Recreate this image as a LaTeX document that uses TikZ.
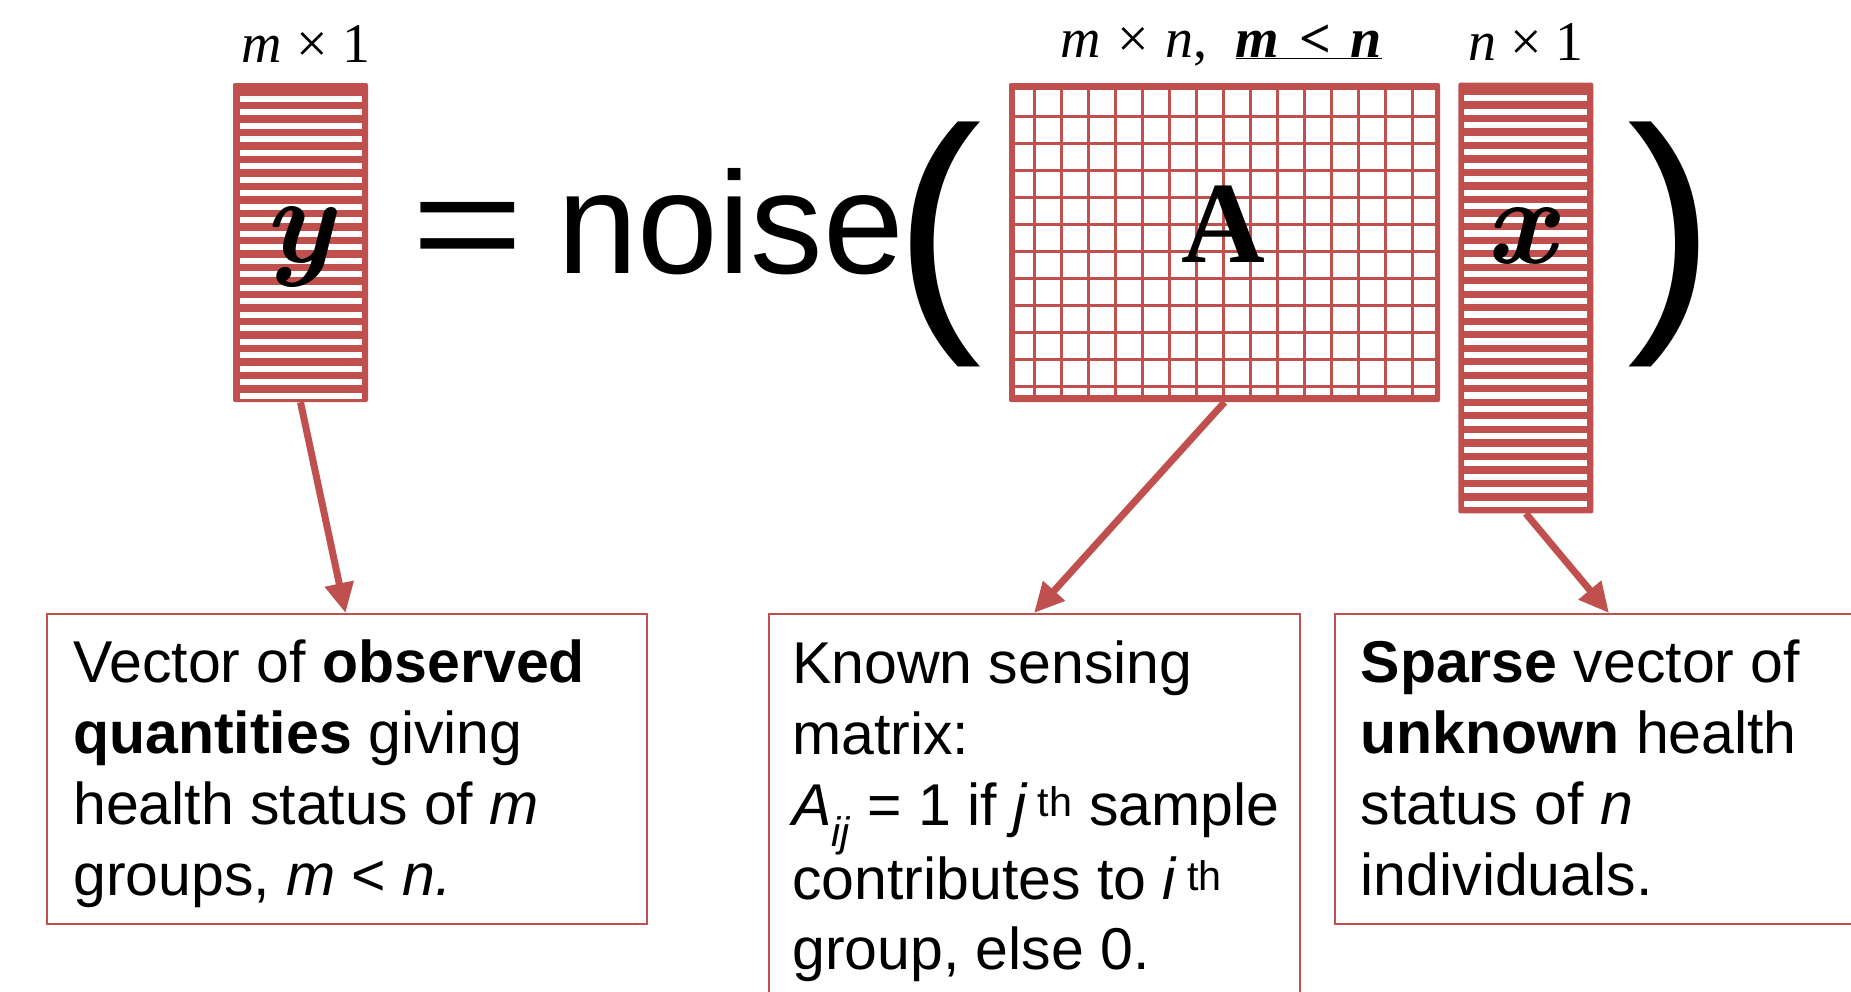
\documentclass[tikz,border=0pt]{standalone}
\usepackage{graphicx}
\usepackage{fontspec}
\setmainfont{Liberation Sans}
\newfontfamily\serifL{Liberation Serif}
\newfontfamily\lmr{Latin Modern Roman}
\usetikzlibrary{arrows.meta,calc}
\definecolor{accred}{HTML}{C0504D}
\tikzset{
  vecbox/.style={fill=accred, draw=none, rounded corners=2pt, inner sep=0pt},
  dimlbl/.style={font=\serifL\fontsize{56}{60}\selectfont, inner sep=0pt, anchor=base},
  bigsym/.style={inner sep=0pt, font=\fontsize{145}{145}\selectfont},
  conn/.style={draw=accred, line width=7pt, -{Triangle[length=30pt,width=28pt]}},
  tbox/.style={draw=accred, line width=2pt, inner sep=0pt, anchor=north west},
  txt/.style={font=\fontsize{59}{70.7}\selectfont, align=left, inner sep=0pt, anchor=north west},
}
\begin{document}
\begin{tikzpicture}[x=1pt,y=-1pt]
\useasboundingbox (0,0) rectangle (1851,991);
\clip (0,0) rectangle (1851,991);

% y vector
\node[vecbox, minimum width=135pt, minimum height=319pt] (ybox) at (300.5,242.5) {};
\foreach \k in {0,...,22}
  \fill[white] (239.5,{95.7+13.5*\k}) rectangle (361.7,{101.9+13.5*\k});

% A matrix
\node[vecbox, minimum width=431pt, minimum height=319pt] (Abox) at (1224.5,242.5) {};
\fill[white] (1015,90) rectangle (1434.5,395.3);
\foreach \xx in {1034,1061,1088,1115,1142,1169,1196,1223,1250.3,1277.3,1304.3,1331.3,1358.3,1385.3,1412.3}
  \draw[accred, line width=3pt] (\xx,90) -- (\xx,395.3);
\foreach \yy in {116,143,170,197,224,251.2,278.2,305.2,332.4,359.3,386.3}
  \draw[accred, line width=3pt] (1015,\yy) -- (1434.5,\yy);

% x vector
\node[vecbox, minimum width=135pt, minimum height=430.6pt] (xbox) at (1525.8,298) {};
\foreach \k in {0,...,30}
  \fill[white] (1464.3,{95+13.52*\k}) rectangle (1587.3,{101.3+13.52*\k});

% letters in boxes
\node[inner sep=0pt, font=\lmr\bfseries\itshape\fontsize{124}{124}\selectfont, anchor=base] (ylet) at (298,262) {y};
\node[inner sep=0pt, font=\serifL\bfseries\fontsize{116}{116}\selectfont, anchor=base] (Alet) at (1223,262) {A};
\node[inner sep=0pt, font=\lmr\bfseries\itshape\fontsize{124}{124}\selectfont, anchor=base] (xlet) at (1520,263) {x};

% dimension labels
\node[dimlbl] (dimy) at (306,62) {\textit{m} × 1};
\node[dimlbl] (dimA) at (1221,57) {\textit{m}\hspace{0.3em}×\hspace{0.3em}\textit{n},\hspace{28pt}\underline{\bfseries\itshape m\hspace{0.35em}<\hspace{0.35em}n}};
\node[dimlbl] (dimx) at (1526,60) {\textit{n} × 1};

% equation
\node[bigsym, anchor=base west] (eq) at (411.7,273) {\scalebox{1.33}[1]{=}};
\node[bigsym, anchor=base west] (noise) at (557,273) {noise};
\node[inner sep=0pt, font=\fontsize{263}{263}\selectfont, anchor=south] (lpar) at (938,367) {(};
\node[inner sep=0pt, font=\fontsize{263}{263}\selectfont, anchor=south] (rpar) at (1671.5,367) {)};

% text boxes
\node[tbox, minimum width=600pt, minimum height=310pt] (b1) at (45.5,613) {};
\node[tbox, minimum width=531pt, minimum height=420pt] (b2) at (768,613) {};
\node[tbox, minimum width=560pt, minimum height=310pt] (b3) at (1334,613) {};

\node[txt] (t1) at (73,640)
  {Vector of \textbf{observed}\\\textbf{quantities} giving\\health status of \textit{m}\\groups, \textit{m} < \textit{n.}};
\node[txt] (t2) at (792,641)
  {Known sensing\\matrix:\\\textit{A}\textsubscript{\textit{ij}} = 1 if \textit{j}\,\textsuperscript{th} sample\\contributes to \textit{i}\,\textsuperscript{th}\\group, else 0.};
\node[txt] (t3) at (1360.5,640)
  {\textbf{Sparse} vector of\\\textbf{unknown} health\\status of \textit{n}\\individuals.};

% connectors
\coordinate (e1) at ($(b1.north west)+(300,0)$);
\coordinate (e2) at ($(b2.north west)+(266,0)$);
\coordinate (e3) at ($(b3.north west)+(275,0)$);
\draw[conn] (ybox.south) -- (e1);
\draw[conn] (Abox.south) -- (e2);
\draw[conn] (xbox.south) -- (e3);
\end{tikzpicture}
\end{document}
